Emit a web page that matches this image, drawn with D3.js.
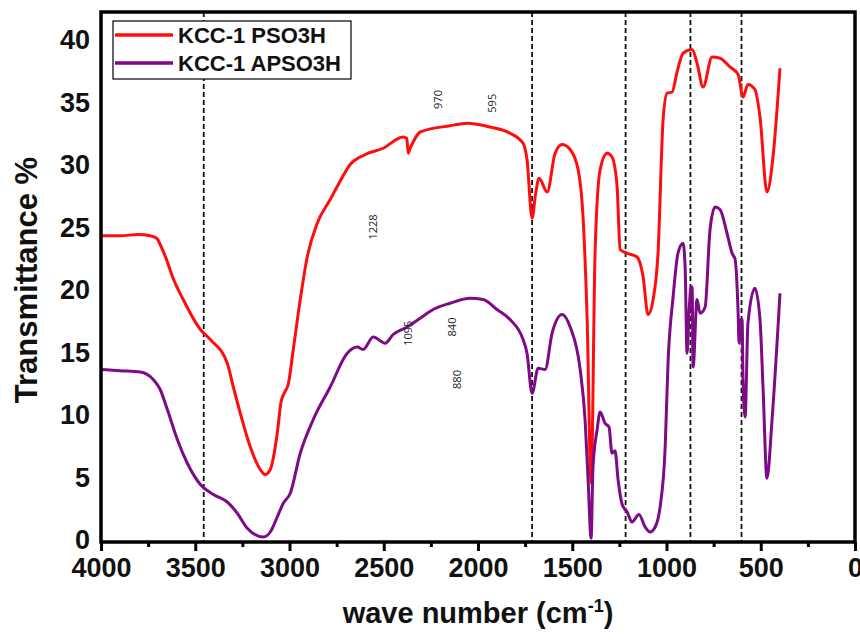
<!DOCTYPE html>
<html>
<head>
<meta charset="utf-8">
<script src="https://cdn.jsdelivr.net/npm/d3@7"></script>
<style>
  html, body { margin: 0; padding: 0; background: #fff; }
  svg { display: block; }
</style>
</head>
<body>
<svg id="chart" width="860" height="641"></svg>
<script>
// ---------------- DATA ----------------
const seriesNames = ["KCC-1 PSO3H", "KCC-1 APSO3H"];
const seriesColors = ["#ff0d0d", "#7d0a86"];

const psoWn = [4000, 3900, 3800, 3740, 3705, 3680, 3650, 3620, 3564, 3473, 3420, 3330, 3298, 3261, 3208, 3155, 3129, 3102, 3065, 3045, 3025, 3007, 2980, 2943, 2906, 2853, 2784, 2741, 2678, 2598, 2503, 2397, 2378, 2370, 2360, 2344, 2307, 2148, 2058, 1936, 1830, 1761, 1740, 1713, 1695, 1676, 1633, 1591, 1554, 1511, 1469, 1442, 1421, 1400, 1379, 1352, 1315, 1289, 1262, 1246, 1209, 1156, 1124, 1098, 1071, 1045, 1018, 997, 970, 944, 912, 864, 838, 806, 758, 716, 663, 620, 594, 568, 531, 504, 467, 435, 398];
const psoT  = [24.5, 24.5, 24.6, 24.5, 24.3, 23.6, 22.5, 21.2, 19.4, 17.0, 16.2, 14.3, 12.4, 10.3, 7.6, 5.8, 5.4, 5.8, 8.7, 11.2, 12.0, 12.6, 15.4, 19.4, 22.8, 25.5, 27.4, 28.6, 30.2, 31.0, 31.5, 32.4, 32.3, 31.1, 31.5, 32.0, 32.8, 33.3, 33.5, 33.2, 32.7, 31.9, 30.6, 25.9, 27.8, 29.1, 28.0, 31.1, 31.8, 31.4, 29.8, 25.8, 17.8, 4.7, 23.1, 29.8, 31.1, 30.8, 28.4, 23.4, 23.1, 22.8, 21.2, 18.2, 19.4, 23.1, 33.8, 35.9, 36.0, 37.6, 39.1, 39.4, 38.3, 36.4, 38.8, 38.7, 38.0, 37.4, 35.6, 36.6, 36.2, 34.0, 28.0, 30.8, 37.9];

const apsoWn = [4000, 3900, 3791, 3723, 3686, 3648, 3595, 3542, 3473, 3404, 3330, 3277, 3224, 3139, 3102, 3065, 3033, 2996, 2943, 2874, 2784, 2694, 2641, 2609, 2556, 2492, 2450, 2376, 2307, 2238, 2148, 2042, 1973, 1899, 1830, 1761, 1740, 1713, 1681, 1644, 1607, 1554, 1511, 1458, 1432, 1416, 1400, 1390, 1368, 1352, 1326, 1305, 1289, 1273, 1257, 1235, 1209, 1183, 1146, 1113, 1087, 1060, 1034, 1007, 992, 965, 939, 912, 901, 891, 880, 870, 864, 859, 838, 822, 795, 769, 742, 716, 679, 652, 636, 620, 615, 605, 599, 594, 583, 568, 531, 504, 488, 467, 440, 398];
const apsoT  = [13.8, 13.7, 13.6, 13.0, 12.2, 10.6, 8.2, 6.3, 4.6, 3.8, 3.2, 2.3, 1.1, 0.4, 0.8, 2.0, 3.1, 3.9, 7.1, 9.8, 12.4, 15.1, 15.6, 15.4, 16.4, 15.9, 16.6, 17.2, 17.9, 18.6, 19.1, 19.5, 19.4, 18.6, 17.8, 16.2, 15.1, 11.9, 13.9, 13.8, 16.7, 18.2, 17.2, 13.8, 9.8, 5.0, 0.3, 6.0, 9.0, 10.4, 9.5, 9.2, 7.1, 7.3, 5.0, 3.0, 2.4, 1.6, 2.2, 1.2, 0.8, 1.2, 2.8, 7.6, 14.3, 19.6, 23.1, 23.9, 21.9, 15.1, 18.5, 20.4, 20.4, 14.0, 19.4, 18.3, 18.8, 25.0, 26.8, 26.6, 24.7, 23.1, 22.6, 18.3, 15.9, 17.8, 17.8, 13.0, 10.0, 17.5, 20.3, 17.8, 12.4, 5.1, 9.8, 19.9];

const refLines = [3455, 1713, 1217, 873, 602];

const xTicks = [4000, 3500, 3000, 2500, 2000, 1500, 1000, 500, 0];
const xMinorTicks = [3750, 3250, 2750, 2250, 1750, 1250, 750, 250];
const yTicks = [0, 5, 10, 15, 20, 25, 30, 35, 40];

const annotLabels = ["970", "595", "1228", "1095", "840", "880"];
const annotWn = [2211, 1925, 2556, 2370, 2137, 2110];
const annotT  = [35.4, 35.1, 25.2, 16.7, 17.2, 13.0];

// ---------------- CHART ----------------
const svg = d3.select("#chart");
const L = 101, R = 855, T = 12, B = 542;

const x = d3.scaleLinear().domain([4000, 0]).range([L, R]);
const y = d3.scaleLinear().domain([0, 42.4]).range([B, T]);

const bold = "'Liberation Sans', Arial, sans-serif";

// reference dashed lines
svg.append("g").selectAll("line").data(refLines).join("line")
  .attr("x1", d => x(d)).attr("x2", d => x(d))
  .attr("y1", T).attr("y2", B)
  .attr("stroke", "#111").attr("stroke-width", 1.8)
  .attr("stroke-dasharray", "5,3");

// curves
const line = d3.line().x(d => x(d[0])).y(d => y(d[1])).curve(d3.curveMonotoneX);
const series = [
  d3.zip(psoWn, psoT),
  d3.zip(apsoWn, apsoT)
];
svg.append("g").selectAll("path").data(series).join("path")
  .attr("d", d => line(d))
  .attr("fill", "none")
  .attr("stroke", (d, i) => seriesColors[i])
  .attr("stroke-width", 3)
  .attr("stroke-linejoin", "round");

// annotations
svg.append("g").selectAll("text").data(annotLabels).join("text")
  .attr("transform", (d, i) => `translate(${x(annotWn[i])},${y(annotT[i])}) rotate(-90)`)
  .attr("text-anchor", "middle")
  .attr("dy", "0.35em")
  .attr("font-family", "'Open Sans', 'Liberation Sans', sans-serif")
  .attr("font-size", 11)
  .attr("fill", "#222")
  .text(d => d);

// frame
svg.append("rect")
  .attr("x", L).attr("y", T).attr("width", R - L).attr("height", B - T)
  .attr("fill", "none").attr("stroke", "#000").attr("stroke-width", 3.5);

// x axis
const xAxis = d3.axisBottom(x).tickValues(xTicks).tickSize(9).tickPadding(7).tickFormat(d3.format("d"));
const gx = svg.append("g").attr("transform", `translate(0,${B})`).call(xAxis);
gx.select(".domain").remove();
gx.selectAll(".tick line").attr("stroke", "#000").attr("stroke-width", 3);
gx.selectAll(".tick text").attr("font-family", bold).attr("font-weight", "bold")
  .attr("font-size", 27).attr("fill", "#111");
const gxm = svg.append("g").attr("transform", `translate(0,${B})`)
  .call(d3.axisBottom(x).tickValues(xMinorTicks).tickSize(5).tickFormat(""));
gxm.select(".domain").remove();
gxm.selectAll(".tick line").attr("stroke", "#000").attr("stroke-width", 3);

// y axis
const yAxis = d3.axisLeft(y).tickValues(yTicks).tickSize(0).tickPadding(11);
const gy = svg.append("g").attr("transform", `translate(${L},0)`).call(yAxis);
gy.select(".domain").remove();
gy.selectAll(".tick text").attr("font-family", bold).attr("font-weight", "bold")
  .attr("font-size", 27).attr("fill", "#111").attr("dy", "0.25em");

// axis titles
svg.append("text")
  .attr("transform", `translate(37,280) rotate(-90)`)
  .attr("text-anchor", "middle")
  .attr("font-family", bold).attr("font-weight", "bold").attr("font-size", 31)
  .attr("fill", "#111")
  .text("Transmittance %");

const xt = svg.append("text")
  .attr("x", 478).attr("y", 623)
  .attr("text-anchor", "middle")
  .attr("font-family", bold).attr("font-weight", "bold").attr("font-size", 29)
  .attr("fill", "#111");
xt.append("tspan").text("wave number (cm");
xt.append("tspan").attr("dy", -11).attr("font-size", 18).text("-1");
xt.append("tspan").attr("dy", 11).text(")");

// legend
const lg = svg.append("g");
lg.append("rect").attr("x", 113).attr("y", 21).attr("width", 238).attr("height", 58)
  .attr("fill", "#fff").attr("stroke", "#000").attr("stroke-width", 1.2);
const ly = [35, 63];
seriesNames.forEach((n, i) => {
  lg.append("line").attr("x1", 115).attr("x2", 173).attr("y1", ly[i]).attr("y2", ly[i])
    .attr("stroke", seriesColors[i]).attr("stroke-width", 3.5);
  lg.append("text").attr("x", 178).attr("y", ly[i]).attr("dy", "0.36em")
    .attr("font-family", bold).attr("font-weight", "bold").attr("font-size", 22)
    .attr("fill", "#111").text(n);
});
</script>
</body>
</html>
